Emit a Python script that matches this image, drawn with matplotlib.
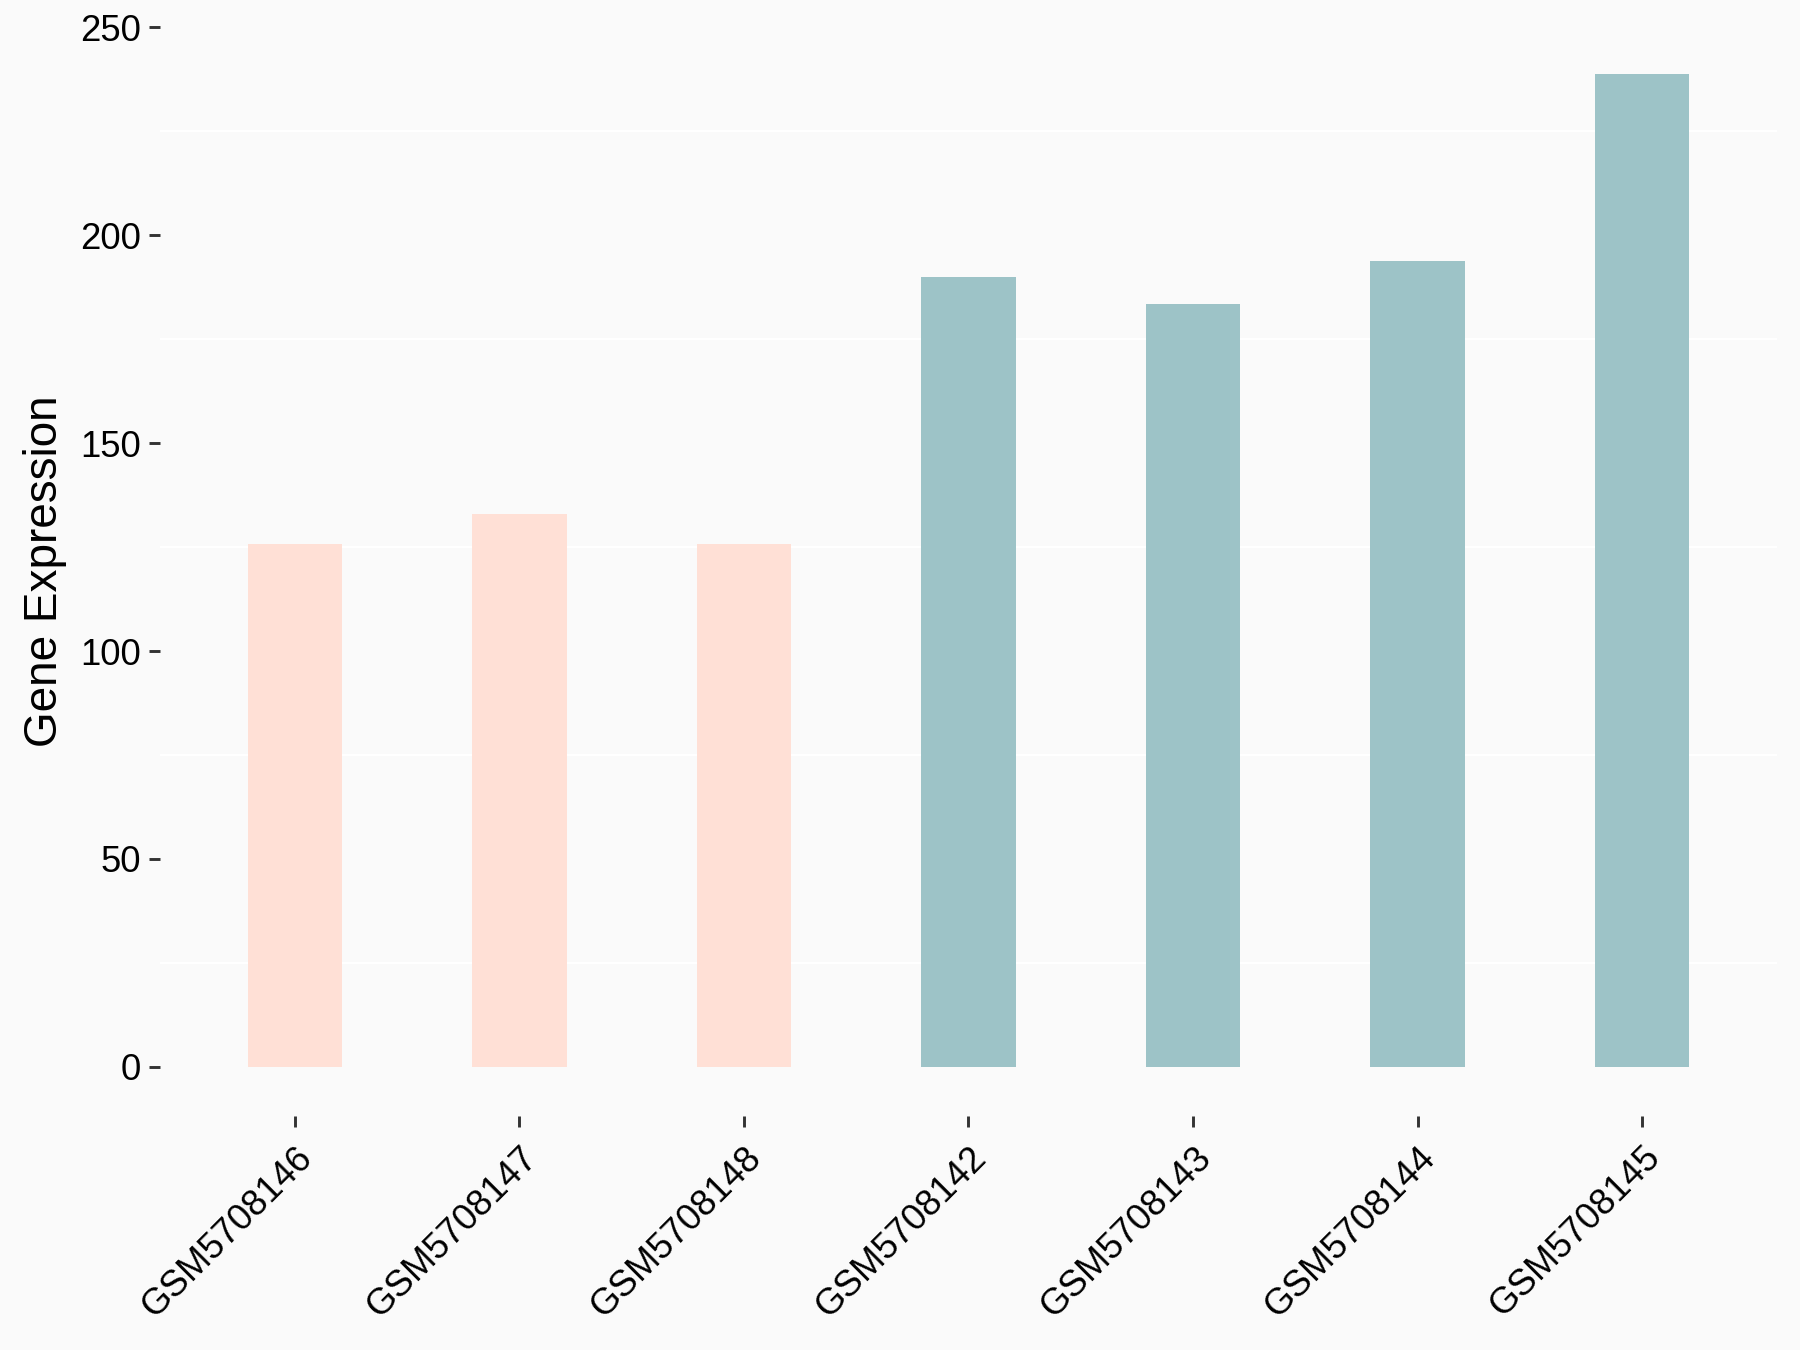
import matplotlib
matplotlib.use("Agg")
import matplotlib.pyplot as plt

samples = ["GSM5708146", "GSM5708147", "GSM5708148",
           "GSM5708142", "GSM5708143", "GSM5708144", "GSM5708145"]
expression = [125.8, 133.0, 125.8, 190.0, 183.4, 193.8, 238.7]
groups = ["ctrl", "ctrl", "ctrl", "treat", "treat", "treat", "treat"]
group_colors = {"ctrl": "#FFE0D6", "treat": "#9DC3C7"}
y_ticks = [0, 50, 100, 150, 200, 250]
grid_lines = [25, 75, 125, 175, 225]

BG = "#FAFAFA"
plt.rcParams["font.family"] = ["Liberation Sans", "DejaVu Sans"]

fig = plt.figure(figsize=(12, 9), dpi=150, facecolor=BG)
ax = fig.add_axes([0.0889, 0.173, 0.8983, 0.8085], facecolor=BG)

xpos = list(range(1, len(samples) + 1))
ax.bar(xpos, expression, width=0.42,
       color=[group_colors[g] for g in groups], linewidth=0, zorder=2)

# ggplot-style 5% expansion below zero
ax.set_ylim(-max(expression) * 0.05, 250.6)
ax.set_xlim(0.4, len(samples) + 0.6)

ax.set_yticks(y_ticks)
for v in grid_lines:
    ax.axhline(v, color="white", linewidth=1.0, zorder=1)

ax.set_xticks(xpos)
ax.set_xticklabels(samples, rotation=45, ha="right", rotation_mode="anchor")

for s in ax.spines.values():
    s.set_visible(False)

ax.tick_params(axis="y", length=5.3, width=1.4, color="#333333",
               labelsize=17.5, labelcolor="black", pad=4)
ax.tick_params(axis="x", length=5.3, width=1.4, color="#333333",
               labelsize=17.5, labelcolor="black", pad=6)

ax.set_ylabel("Gene Expression", fontsize=22, color="black", labelpad=6)

fig.savefig("out.png", dpi=150, facecolor=BG)
